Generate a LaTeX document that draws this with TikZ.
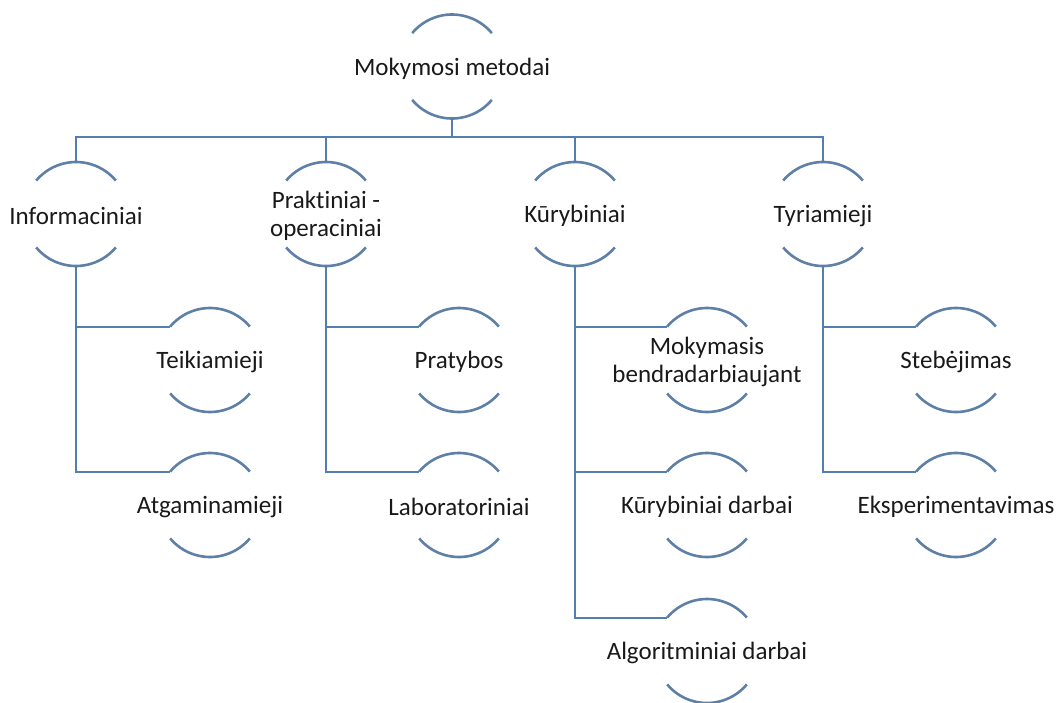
\documentclass[tikz,border=0pt]{standalone}
\usepackage{fontspec}
\setmainfont{Carlito}[Ligatures={NoCommon}]
\usetikzlibrary{calc}
\definecolor{rimblue}{RGB}{94,128,166}
\definecolor{wireblue}{RGB}{82,126,176}
\tikzset{
  bubble/.style={circle, minimum size=104pt, inner sep=0pt, outer sep=0pt},
  lbl/.style={font=\fontsize{25}{27.5}\selectfont, align=center, text=black!90, inner sep=0pt},
  wire/.style={draw=wireblue, line width=2pt},
  rim/.style={draw=rimblue, line width=2.6pt},
}
% a circle with only its top and bottom arcs drawn, and its text in the middle
\newcommand\bubbleat[4]{%
  \node[bubble] (#1) at (#2,#3) {};
  \node[lbl] (#1-t) at ($(#1)+(0,2)$) {#4};
  \draw[rim] (#1.40) arc (40:140:52pt);
  \draw[rim] (#1.220) arc (220:320:52pt);
}
\begin{document}
\begin{tikzpicture}[x=1pt, y=-1pt]
\useasboundingbox (0,0) rectangle (1058,702);

\bubbleat{top}{452}{66.5}{Mokymosi metodai}

\bubbleat{inf}{76}{214}{Informaciniai}
\bubbleat{pra}{326}{214}{Praktiniai -\\operaciniai}
\bubbleat{kur}{575}{214}{Kūrybiniai}
\bubbleat{tyr}{823}{214}{Tyriamieji}

\bubbleat{tei}{210}{360}{Teikiamieji}
\bubbleat{atg}{210}{505}{Atgaminamieji}
\bubbleat{prt}{459}{360}{Pratybos}
\bubbleat{lab}{459}{505}{Laboratoriniai}
\bubbleat{mok}{707}{360}{Mokymasis\\bendradarbiaujant}
\bubbleat{krd}{707}{505}{Kūrybiniai darbai}
\bubbleat{alg}{707}{651}{Algoritminiai darbai}
\bubbleat{ste}{956}{360}{Stebėjimas}
\bubbleat{eks}{956}{505}{Eksperimentavimas}

% bus from the root to the four groups
\coordinate (bus) at (452,137);
\draw[wire] (top.south) -- (bus);
\draw[wire] (inf.north) |- (bus) -| (tyr.north);
\draw[wire] (pra.north) -- (pra.north |- bus);
\draw[wire] (kur.north) -- (kur.north |- bus);

% groups to their methods
\draw[wire] (inf.south) |- (tei.140);
\draw[wire] (inf.south) |- (atg.140);
\draw[wire] (pra.south) |- (prt.140);
\draw[wire] (pra.south) |- (lab.140);
\draw[wire] (kur.south) |- (mok.140);
\draw[wire] (kur.south) |- (krd.140);
\draw[wire] (kur.south) |- (alg.140);
\draw[wire] (tyr.south) |- (ste.140);
\draw[wire] (tyr.south) |- (eks.140);
\end{tikzpicture}
\end{document}
